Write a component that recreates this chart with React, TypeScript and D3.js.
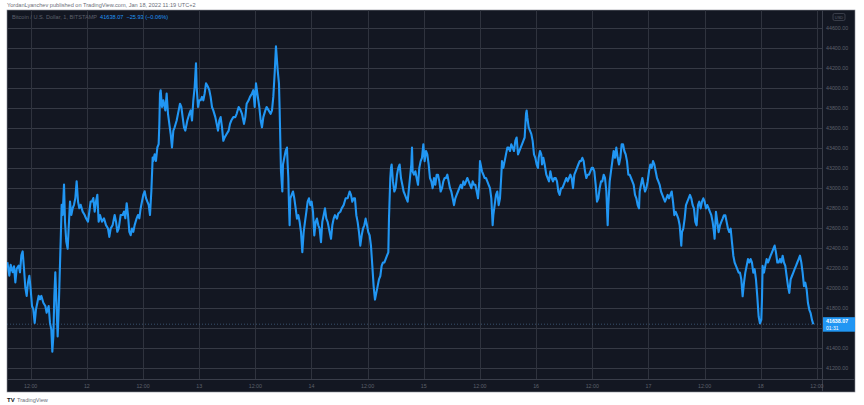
import React from "react";
import * as d3 from "d3";

// hours since 2022-01-11 00:00 (UTC+2), BTC/USD price
const priceSeries: [number, number][] = [
  [7.01,42258],[7.43,42123],[7.72,42231],[8.15,42157],[8.43,42218],[8.72,42056],[9.0,42191],[9.43,42224],[9.71,42157],[10.0,42326],
  [10.28,42366],[10.57,42191],[10.85,42005],[11.14,41921],[11.42,42056],[11.71,42123],[11.99,41988],[12.28,41820],[12.56,41786],[12.85,41651],
  [13.13,41786],[13.42,41853],[13.7,41921],[13.99,41887],[14.27,41921],[14.7,41853],[15.13,41820],[15.41,41752],[15.84,41820],[16.12,41651],
  [16.41,41584],[16.62,41364],[16.84,41516],[17.05,41921],[17.26,42157],[17.55,41786],[17.76,41516],[17.98,41786],[18.19,42123],[18.4,42461],
  [18.62,42832],[18.83,42730],[19.12,43034],[19.33,42663],[19.61,42461],[19.9,42393],[20.11,42595],[20.4,42865],[20.68,42730],[20.97,42798],
  [21.25,42832],[21.54,42899],[21.82,43068],[22.11,42865],[22.39,42798],[22.68,42832],[23.1,42764],[23.53,42730],[23.82,42697],[24.24,42663],
  [24.53,42764],[24.81,42865],[25.1,42865],[25.38,42899],[25.67,42764],[25.95,42865],[26.24,42933],[26.52,42663],[26.81,42730],[27.23,42663],
  [27.66,42697],[28.09,42629],[28.52,42595],[28.8,42511],[29.09,42595],[29.51,42629],[29.94,42730],[30.23,42663],[30.51,42562],[30.8,42595],
  [31.22,42730],[31.65,42730],[31.94,42764],[32.22,42697],[32.51,42848],[32.79,42730],[33.08,42562],[33.36,42528],[33.65,42595],[33.93,42562],
  [34.21,42629],[34.64,42697],[34.93,42730],[35.21,42697],[35.5,42798],[35.78,42865],[36.07,42933],[36.35,42967],[36.64,42899],[36.92,42865],
  [37.21,42832],[37.49,42730],[37.78,42967],[37.92,43135],[38.06,43304],[38.2,43270],[38.49,43338],[38.77,43270],[39.06,43405],[39.34,43439],
  [39.49,43641],[39.63,43945],[39.77,43978],[40.06,43810],[40.34,43877],[40.77,43776],[41.05,43945],[41.34,43742],[41.62,43641],[41.91,43540],
  [42.19,43405],[42.48,43574],[42.76,43607],[43.19,43675],[43.62,43776],[43.9,43843],[44.19,43810],[44.47,43709],[44.76,43607],[45.04,43574],
  [45.47,43675],[45.9,43742],[46.18,43776],[46.47,43675],[46.75,43877],[47.04,44012],[47.32,44248],[47.46,44012],[47.75,43810],[48.03,43877],
  [48.32,43877],[48.6,43911],[48.89,43877],[49.17,43945],[49.46,44046],[49.88,44012],[50.17,43978],[50.45,43911],[50.74,43810],[51.02,43776],
  [51.45,43709],[51.74,43641],[52.02,43574],[52.31,43675],[52.59,43709],[52.88,43607],[53.16,43472],[53.45,43506],[53.87,43540],[54.3,43574],
  [54.59,43641],[54.87,43675],[55.3,43709],[55.72,43709],[56.01,43742],[56.44,43810],[56.86,43776],[57.15,43742],[57.58,43641],[57.86,43709],
  [58.15,43843],[58.57,43877],[58.86,43911],[59.29,43945],[59.57,43978],[59.86,43810],[60.14,44046],[60.43,43945],[60.85,43810],[61.14,43675],
  [61.42,43607],[61.71,43709],[62.14,43776],[62.42,43810],[62.85,43776],[63.27,43742],[63.56,43776],[63.84,43911],[64.13,44147],[64.27,44282],
  [64.41,44417],[64.77,44181],[65.05,44046],[65.2,43775],[65.34,43471],[65.48,43167],[65.77,42965],[65.91,43235],[66.19,43302],[66.48,43370],
  [66.76,43404],[66.91,43235],[67.05,43100],[67.19,42829],[67.33,42627],[67.48,42897],[67.76,42931],[68.05,42965],[68.33,42897],[68.62,42796],
  [68.9,42694],[69.19,42728],[69.47,42661],[69.76,42559],[70.04,42357],[70.33,42559],[70.61,42661],[70.9,42762],[71.18,42863],[71.46,42897],
  [71.75,42829],[72.03,42863],[72.32,42762],[72.6,42525],[72.89,42661],[73.17,42694],[73.46,42627],[73.74,42593],[74.03,42458],[74.31,42661],
  [74.6,42728],[74.88,42796],[75.17,42694],[75.45,42661],[75.88,42559],[76.17,42492],[76.45,42627],[76.74,42694],[77.02,42728],[77.45,42694],
  [77.73,42745],[78.16,42762],[78.45,42796],[78.87,42829],[79.3,42897],[79.73,42897],[80.15,42965],[80.44,42931],[80.72,42863],[81.01,42897],
  [81.29,42897],[81.58,42728],[81.86,42661],[82.15,42559],[82.43,42424],[82.72,42525],[83.0,42593],[83.29,42627],[83.57,42694],[83.86,42627],
  [84.14,42559],[84.43,42525],[84.71,42424],[85.0,42221],[85.28,42019],[85.57,41884],[85.85,41951],[86.14,42019],[86.42,42086],[86.71,42120],
  [86.99,42221],[87.28,42255],[87.56,42255],[87.85,42289],[88.13,42323],[88.42,42357],[88.56,42694],[88.7,42897],[88.84,43100],[88.99,43201],
  [89.13,43235],[89.41,43066],[89.7,42965],[89.98,42998],[90.27,43133],[90.55,43201],[90.84,43235],[91.12,43100],[91.41,43032],[91.69,42965],
  [91.98,42931],[92.26,42897],[92.55,42863],[92.83,42998],[93.33,43235],[93.48,43404],[93.62,43167],[93.9,43133],[94.19,43167],[94.47,43100],
  [94.76,43032],[95.04,43201],[95.33,43269],[95.61,43302],[95.9,43437],[96.18,43269],[96.47,43370],[96.75,43336],[97.04,43235],[97.32,43100],
  [97.61,43066],[97.89,42998],[98.18,43100],[98.46,43032],[98.75,43133],[99.03,43133],[99.32,43066],[99.6,42965],[99.89,42998],[100.17,43066],
  [100.46,43100],[100.74,43100],[101.03,43133],[101.31,43066],[101.6,42998],[101.88,42965],[102.17,42897],[102.45,42829],[102.74,42897],[103.02,42931],
  [103.31,42965],[103.59,42998],[103.88,43032],[104.16,42998],[104.45,43066],[104.73,43032],[105.02,43066],[105.3,43100],[105.59,43066],[105.87,43032],
  [106.16,42998],[106.44,43066],[106.73,43032],[107.01,43032],[107.3,42965],[107.58,42897],[107.86,43066],[108.01,43269],[108.15,43235],[108.43,43167],
  [108.72,43133],[109.0,43100],[109.29,43100],[109.57,43066],[109.86,43032],[110.14,42998],[110.43,42897],[110.71,42627],[110.86,42728],[111.14,42829],
  [111.43,42931],[111.71,42965],[112.0,42829],[112.28,42897],[112.57,43133],[112.71,43269],[112.99,43201],[113.28,43269],[113.56,43336],[113.85,43404],
  [114.13,43404],[114.42,43370],[114.7,43437],[114.99,43404],[115.27,43370],[115.56,43471],[115.84,43505],[116.13,43336],[116.41,43370],[116.7,43404],
  [116.98,43437],[117.27,43471],[117.55,43505],[117.84,43742],[117.98,43775],[118.12,43708],[118.41,43606],[118.69,43573],[118.98,43539],[119.26,43471],
  [119.55,43336],[119.83,43302],[120.12,43235],[120.4,43201],[120.54,43302],[120.83,43370],[121.11,43336],[121.26,43235],[121.54,43302],[121.83,43235],
  [122.18,43133],[122.47,43100],[122.75,43066],[123.04,43167],[123.32,43100],[123.61,43066],[123.89,43100],[124.18,43100],[124.46,43066],[124.75,42965],
  [125.03,42931],[125.32,42998],[125.6,42998],[125.89,43032],[126.17,43066],[126.46,43100],[126.74,43066],[127.03,43100],[127.31,43133],[127.6,43100],
  [127.88,42998],[128.17,43133],[128.45,43167],[128.74,43201],[129.02,43235],[129.31,43269],[129.59,43269],[129.88,43302],[130.16,43269],[130.45,43167],
  [130.73,43100],[131.02,43133],[131.3,43133],[131.59,43167],[131.87,43201],[132.16,43201],[132.44,43167],[132.73,43032],[133.01,42863],[133.3,42897],
  [133.58,42998],[133.87,43066],[134.15,43066],[134.44,43133],[134.72,43100],[135.01,42965],[135.29,42627],[135.43,42829],[135.72,43066],[136.0,43167],
  [136.29,43269],[136.57,43370],[136.86,43302],[137.14,43404],[137.43,43302],[137.71,43235],[138.0,43302],[138.28,43437],[138.57,43437],[138.85,43370],
  [139.14,43336],[139.42,43269],[139.71,43133],[139.99,43133],[140.28,43100],[140.56,43066],[140.85,43032],[141.13,42931],[141.42,42897],[141.7,42829],
  [141.99,42796],[142.13,42965],[142.41,43032],[142.7,43100],[142.98,43032],[143.27,42965],[143.55,42998],[143.84,43066],[144.12,43167],[144.41,43235],
  [144.69,43201],[144.98,43269],[145.26,43235],[145.55,43167],[145.83,43100],[146.12,43066],[146.4,43032],[146.69,42965],[146.97,42931],[147.26,42897],
  [147.54,42863],[147.83,42897],[148.11,42931],[148.4,42897],[148.68,42931],[148.97,42965],[149.25,42863],[149.54,42728],[149.82,42762],[150.11,42728],
  [150.39,42694],[150.68,42627],[151.02,42424],[151.17,42559],[151.45,42593],[151.74,42694],[152.02,42829],[152.31,42863],[152.59,42897],[152.88,42931],
  [153.16,42897],[153.45,42829],[153.73,42796],[154.02,42661],[154.3,42627],[154.59,42829],[154.87,42863],[155.16,42796],[155.44,42863],[155.73,42897],
  [156.01,42863],[156.3,42796],[156.58,42829],[156.87,42796],[157.15,42762],[157.44,42728],[157.72,42661],[158.0,42559],[158.14,42492],[158.43,42762],
  [158.72,42661],[159.0,42559],[159.29,42627],[159.57,42661],[159.86,42694],[160.14,42728],[160.43,42728],[160.71,42661],[161.0,42593],[161.28,42559],
  [161.57,42593],[161.85,42458],[162.14,42323],[162.42,42255],[162.71,42221],[162.99,42188],[163.28,42154],[163.56,42154],[163.85,42086],[164.13,41917],
  [164.42,42053],[164.7,42154],[164.99,42221],[165.27,42289],[165.56,42255],[165.84,42289],[166.12,42255],[166.41,42154],[166.69,42188],[166.98,42086],
  [167.26,41917],[167.55,41715],[167.83,41647],[168.12,41681],[168.26,41884],[168.4,42221],[168.69,42154],[168.97,42221],[169.26,42289],[169.54,42255],
  [169.83,42289],[170.11,42323],[170.4,42357],[170.68,42390],[170.97,42424],[171.25,42357],[171.54,42255],[171.82,42255],[172.11,42289],[172.39,42255],
  [172.68,42323],[172.96,42255],[173.25,42221],[173.53,42120],[173.82,42019],[174.1,41951],[174.39,42086],[174.67,42120],[174.96,42154],[175.24,42188],
  [175.53,42221],[175.81,42255],[176.1,42289],[176.38,42323],[176.67,42255],[176.95,42154],[177.24,42019],[177.52,42053],[177.81,41985],[178.09,41850],
  [178.38,41782],[178.66,41748],[178.95,41681],[179.23,41638.07],
];

const priceTicks = [41200,41400,41600,41800,42000,42200,42400,42600,42800,43000,43200,43400,43600,43800,44000,44200,44400,44600];
const timeTicks = [12,24,36,48,60,72,84,96,108,120,132,144,156,168,180];
const dayStart = 11;
const lastPrice = 41638.07;
const change = -25.93;
const changePct = -0.06;
const countdown = "01:31";
const symbolText = "Bitcoin / U.S. Dollar, 1, BITSTAMP";
const headerText = "YordanLyanchev published on TradingView.com, Jan 18, 2022 11:19 UTC+2";

const W = 864, H = 405;
const panel = { x0: 7, y0: 10, x1: 855, y1: 392 };
const plotRight = 822;
const plotBottom = 379;

export default function App() {
  const x = d3.scaleLinear().domain([12, 180]).range([30.7, 816.9]);
  const y = d3.scaleLinear().domain([41200, 44600]).range([368, 28]);
  const line = d3.line<[number, number]>().x(d => x(d[0])).y(d => y(d[1]));
  const font = "'Liberation Sans', Arial, sans-serif";
  const tickLabel = (h: number) => (h % 24 === 0 ? String(dayStart + h / 24) : "12:00");
  const yLast = y(lastPrice);
  return (
    <svg width={W} height={H} style={{ position: "absolute", left: 0, top: 0, background: "#fff" }} fontFamily={font}>
      <rect x={0} y={0} width={W} height={H} fill="#ffffff" />
      <text x={7} y={7} fontSize={5.6} fill="#6a6d78">{headerText}</text>
      <rect x={panel.x0} y={panel.y0} width={panel.x1 - panel.x0} height={panel.y1 - panel.y0} fill="#131722" stroke="#8a8d96" strokeWidth={0.6} />
      <clipPath id="plotclip">
        <rect x={panel.x0} y={panel.y0} width={plotRight - panel.x0} height={plotBottom - panel.y0} />
      </clipPath>
      <g clipPath="url(#plotclip)">
        {priceTicks.map(p => (
          <line key={"h" + p} x1={panel.x0} x2={plotRight} y1={Math.round(y(p)) + 0.5} y2={Math.round(y(p)) + 0.5} stroke="#363a45" strokeWidth={1} />
        ))}
        {timeTicks.map(t => (
          <line key={"v" + t} x1={Math.round(x(t)) + 0.5} x2={Math.round(x(t)) + 0.5} y1={panel.y0} y2={plotBottom} stroke="#2f333e" strokeWidth={1} />
        ))}
        <line x1={panel.x0} x2={plotRight} y1={yLast} y2={yLast} stroke="#4a6a8e" strokeWidth={0.7} strokeDasharray="1 2" />
        <path d={line(priceSeries) || ""} fill="none" stroke="#2196f3" strokeWidth={2.1} strokeLinejoin="round" />
      </g>
      <line x1={plotRight + 0.5} x2={plotRight + 0.5} y1={panel.y0} y2={panel.y1} stroke="#3a3e4a" strokeWidth={1} />
      <line x1={panel.x0} x2={panel.x1} y1={plotBottom + 0.5} y2={plotBottom + 0.5} stroke="#3a3e4a" strokeWidth={1} />
      {/* price axis */}
      {priceTicks.filter(p => y(p) < yLast - 8 || y(p) > yLast + 10).map(p => (
        <text key={"pl" + p} x={826} y={y(p) + 2} fontSize={5.3} fill="#5d606b">{p.toFixed(2)}</text>
      ))}
      <rect x={833} y={13.5} width={12} height={7} rx={1.5} fill="none" stroke="#4a4e5a" strokeWidth={0.7} />
      <text x={839} y={18.8} fontSize={4} fill="#5d606b" textAnchor="middle">USD</text>
      <rect x={823} y={yLast - 7} width={32} height={14.5} fill="#2196f3" />
      <text x={826} y={yLast - 1} fontSize={5.3} fill="#ffffff" fontWeight="bold">{lastPrice.toFixed(2)}</text>
      <text x={826} y={yLast + 5.5} fontSize={5} fill="#ffffff">{countdown}</text>
      {/* time axis */}
      {timeTicks.map(t => (
        <text key={"tl" + t} x={x(t)} y={387.5} fontSize={5.3} fill="#5d606b" textAnchor="middle">{tickLabel(t)}</text>
      ))}
      {/* legend */}
      <text x={12} y={19} fontSize={5.6} fill="#5d606b">
        {symbolText}
        <tspan fill="#2196f3" dx={3}>{lastPrice.toFixed(2)}</tspan>
        <tspan fill="#2196f3" dx={3}>{`${change < 0 ? "\u2212" : "+"}${Math.abs(change).toFixed(2)} (${changePct < 0 ? "\u2212" : "+"}${Math.abs(changePct).toFixed(2)}%)`}</tspan>
      </text>
      {/* footer */}
      <text x={7} y={401.5} fontSize={6} fontWeight="bold" fill="#131722">TV</text>
      <text x={17} y={401.5} fontSize={5.6} fill="#6a6d78">TradingView</text>
    </svg>
  );
}
